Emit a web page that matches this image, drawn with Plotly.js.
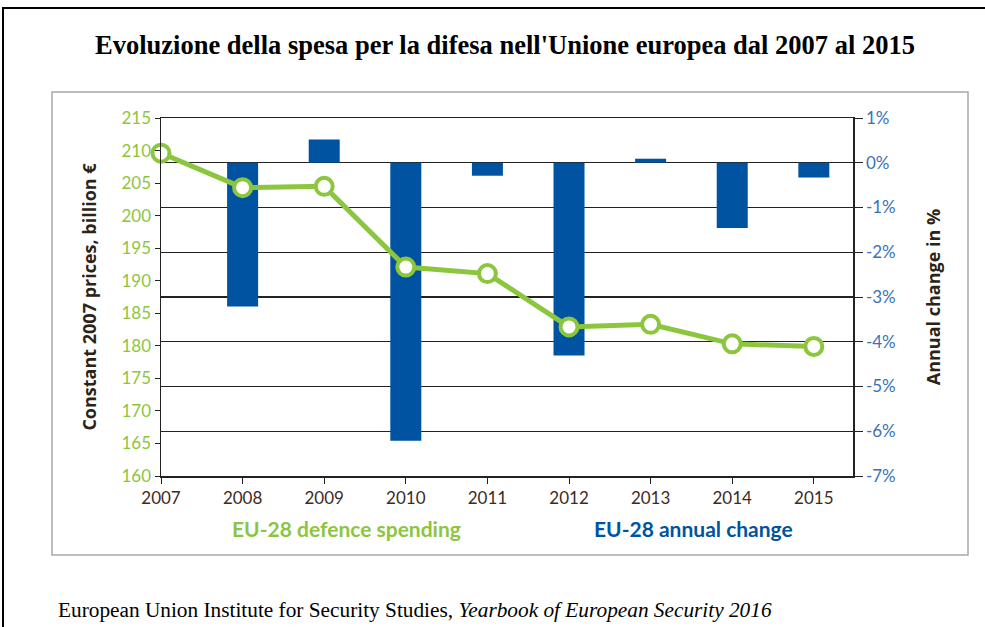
<!DOCTYPE html>
<html>
<head>
<meta charset="utf-8">
<script src="https://cdn.plot.ly/plotly-3.0.1.min.js"></script>
<style>
  html, body { margin: 0; padding: 0; background: #ffffff; }
  #chart { width: 985px; height: 627px; }
</style>
</head>
<body>
<div id="chart"></div>
<script>
// ---- data ----
const years = [2007, 2008, 2009, 2010, 2011, 2012, 2013, 2014, 2015];
const spending = [209.6, 204.3, 204.5, 192.1, 191.1, 182.9, 183.3, 180.3, 179.9];   // billion €, constant 2007 prices
const barYears = [2008, 2009, 2010, 2011, 2012, 2013, 2014, 2015];
const annualChange = [-3.21, 0.52, -6.21, -0.29, -4.31, 0.09, -1.46, -0.33];       // % change
const pctTickVals = [1, 0, -1, -2, -3, -4, -5, -6, -7];
const pctTickText = ['1%', '0%', '-1%', '-2%', '-3%', '-4%', '-5%', '-6%', '-7%'];
const leftTickVals = [160, 165, 170, 175, 180, 185, 190, 195, 200, 205, 210, 215];
const seriesNames = ['EU-28 defence spending', 'EU-28 annual change'];
const chartTitle = "Evoluzione della spesa per la difesa nell'Unione europea dal 2007 al 2015";
const leftTitle = 'Constant 2007 prices, billion €';
const rightTitle = 'Annual change in %';
const sourceText = 'European Union Institute for Security Studies, <i>Yearbook of European Security 2016</i>';

// ---- style ----
const GREEN = '#8cc63e';
const BLUE = '#0053a1';
const BLUE_TXT = '#3a72b8';
const DARK = '#2b2416';
const SANS = 'Lato, "Open Sans", sans-serif';
const SANS_T = '"Open Sans", Lato, sans-serif';
const SERIF = '"Liberation Serif", "DejaVu Serif", serif';

// plot area in pixels (for placing paper-referenced decorations)
const W = 985, H = 627;
const L = 161, R = 853, T = 118, B = 476;
const px = x => (x - L) / (R - L);
const py = y => (B - y) / (B - T);

const bars = {
  type: 'bar',
  name: seriesNames[1],
  x: barYears,
  y: annualChange,
  xaxis: 'x',
  yaxis: 'y',
  width: 0.38,
  marker: { color: BLUE, line: { width: 0 } },
  showlegend: false,
  hoverinfo: 'x+y'
};

const line = {
  type: 'scatter',
  mode: 'lines+markers',
  name: seriesNames[0],
  x: years,
  y: spending,
  xaxis: 'x',
  yaxis: 'y2',
  line: { color: GREEN, width: 5 },
  marker: { symbol: 'circle', size: 17, color: '#ffffff', line: { color: GREEN, width: 4 } },
  cliponaxis: false,
  showlegend: false
};

const layout = {
  width: W,
  height: H,
  paper_bgcolor: '#ffffff',
  plot_bgcolor: '#ffffff',
  margin: { l: L, r: W - R, t: T, b: H - B, pad: 0 },
  showlegend: false,
  title: {
    text: '<b>' + chartTitle + '</b>',
    font: { family: SERIF, size: 26.5, color: '#000000' },
    x: 505 / W,
    xanchor: 'center',
    y: 1 - 45 / H,
    yanchor: 'middle'
  },
  xaxis: {
    range: [2007, 2015.48],
    tickvals: years,
    ticktext: years.map(String),
    tickfont: { family: SANS, size: 17, color: '#3d2b1f' },
    showline: true,
    linecolor: '#222222',
    linewidth: 1.5,
    mirror: true,
    ticks: 'outside',
    ticklen: 6,
    tickcolor: '#222222',
    showgrid: false,
    zeroline: false,
    fixedrange: true
  },
  yaxis: {
    side: 'right',
    range: [-7, 1],
    tickvals: pctTickVals,
    ticktext: pctTickText,
    tickfont: { family: SANS, size: 17, color: BLUE_TXT },
    showline: true,
    linecolor: '#222222',
    linewidth: 1.5,
    ticks: 'outside',
    ticklen: 8,
    tickcolor: '#222222',
    showgrid: true,
    gridcolor: '#222222',
    gridwidth: 1.3,
    zeroline: false,
    title: {
      text: '<b>' + rightTitle + '</b>',
      font: { family: SANS_T, size: 18, color: DARK },
      standoff: 32
    },
    fixedrange: true
  },
  yaxis2: {
    side: 'left',
    overlaying: 'y',
    range: [160, 215],
    tickvals: leftTickVals,
    tickfont: { family: SANS, size: 17, color: GREEN },
    showline: true,
    linecolor: '#222222',
    linewidth: 1.5,
    ticks: 'outside',
    ticklen: 5,
    tickcolor: '#222222',
    showgrid: false,
    zeroline: false,
    title: {
      text: '<b>' + leftTitle + '</b>',
      font: { family: SANS_T, size: 18, color: DARK },
      standoff: 20
    },
    fixedrange: true
  },
  shapes: [
    // outer black frame
    { type: 'rect', xref: 'paper', yref: 'paper', layer: 'below',
      x0: px(3), x1: px(1000), y0: py(660), y1: py(8),
      line: { color: '#000000', width: 2 }, fillcolor: 'rgba(0,0,0,0)' },
    // grey chart box
    { type: 'rect', xref: 'paper', yref: 'paper', layer: 'below',
      x0: px(52), x1: px(968), y0: py(555), y1: py(92),
      line: { color: '#a8a8a8', width: 1.5 }, fillcolor: 'rgba(0,0,0,0)' }
  ],
  annotations: [
    { xref: 'paper', yref: 'paper', x: px(346), y: py(528), xanchor: 'center', yanchor: 'middle',
      text: '<b>' + seriesNames[0] + '</b>', showarrow: false,
      font: { family: SANS, size: 21, color: GREEN } },
    { xref: 'paper', yref: 'paper', x: px(693), y: py(528), xanchor: 'center', yanchor: 'middle',
      text: '<b>' + seriesNames[1] + '</b>', showarrow: false,
      font: { family: SANS, size: 21, color: BLUE } },
    { xref: 'paper', yref: 'paper', x: px(56), y: py(610), xanchor: 'left', yanchor: 'middle',
      text: sourceText, showarrow: false,
      font: { family: SERIF, size: 21.3, color: '#000000' } }
  ]
};

Plotly.newPlot('chart', [bars, line], layout, { displayModeBar: false, staticPlot: true });
</script>
</body>
</html>
